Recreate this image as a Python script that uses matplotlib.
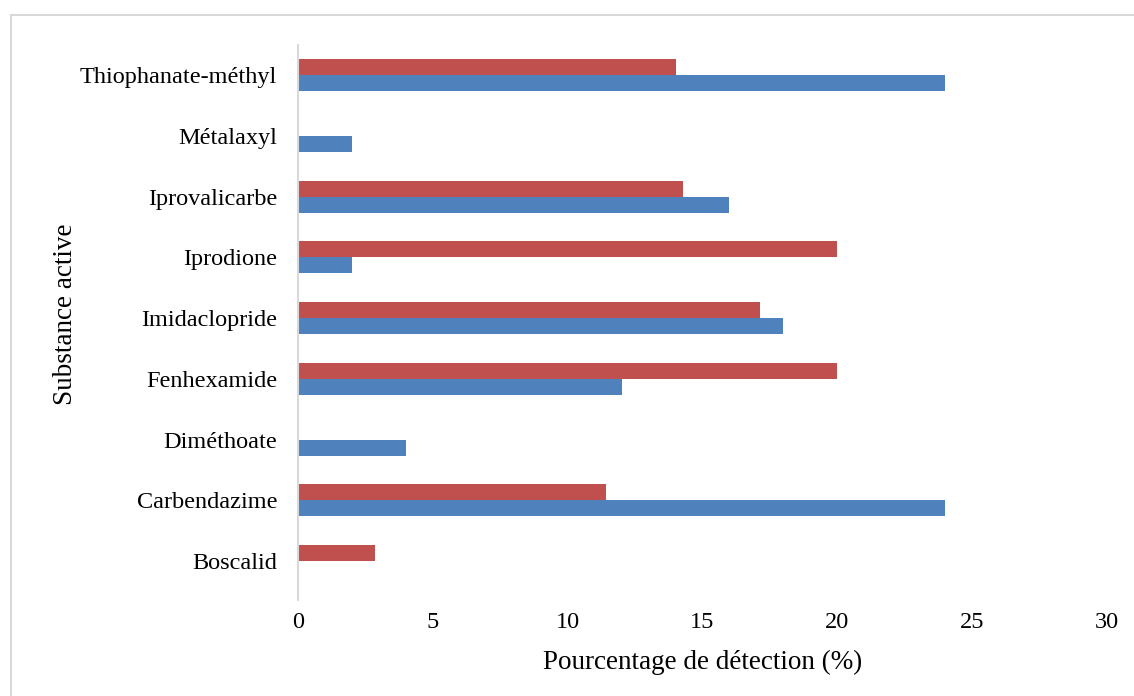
import matplotlib.pyplot as plt
import numpy as np
from matplotlib.patches import Rectangle

# Substances, bottom to top on the chart
substances = ["Boscalid", "Carbendazime", "Diméthoate", "Fenhexamide",
              "Imidaclopride", "Iprodione", "Iprovalicarbe", "Métalaxyl",
              "Thiophanate-méthyl"]
# Detection percentages for the two series
series_blue = [0, 24, 4, 12, 18, 2, 16, 2, 24]
series_red = [2.86, 11.43, 0, 20, 17.14, 20, 14.29, 0, 14.0]
x_ticks = [0, 5, 10, 15, 20, 25, 30]

BLUE = "#4F81BD"
RED = "#C0504D"

plt.rcParams["font.family"] = ["Liberation Serif", "DejaVu Serif"]

fig = plt.figure(figsize=(11.34, 6.96), dpi=100)
ax = fig.add_axes([0.2628, 0.138, 0.7134, 0.797])

y = np.arange(len(substances))
h = 0.263
ax.barh(y - h / 2, series_blue, height=h, color=BLUE)
ax.barh(y + h / 2, series_red, height=h, color=RED)

ax.set_xlim(0, 30)
ax.set_ylim(-0.64, len(substances) - 0.51)
ax.set_xticks(x_ticks)
ax.set_yticks(y)
ax.set_yticklabels(substances)
ax.tick_params(axis="both", length=0, labelsize=17.5, colors="#000000")
ax.tick_params(axis="x", pad=9)
ax.tick_params(axis="y", pad=15)

for side in ("top", "right", "bottom"):
    ax.spines[side].set_visible(False)
ax.spines["left"].set_color("#D9D9D9")
ax.spines["left"].set_linewidth(1.5)

ax.set_xlabel("Pourcentage de détection (%)", fontsize=19.5, labelpad=11.5)
ax.set_ylabel("Substance active", fontsize=19.5)
ax.yaxis.set_label_coords(-0.272, 0.515)

# Outer chart frame
fig.add_artist(Rectangle((11 / 1134, -0.1), 1.2, 0.1 + 681 / 696,
                         transform=fig.transFigure, fill=False,
                         edgecolor="#D9D9D9", linewidth=1.5))

fig.savefig("out.png", dpi=100)
